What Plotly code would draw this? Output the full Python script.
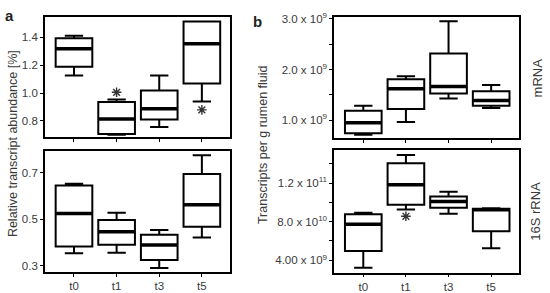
import plotly.graph_objects as go

W, H = 550, 293
cats = ["t0", "t1", "t3", "t5"]

# Panel a, top (relative transcript abundance, %)
a1_lo = [1.126, 0.700, 0.756, 0.939]
a1_q1 = [1.189, 0.706, 0.810, 1.069]
a1_med = [1.317, 0.814, 0.888, 1.353]
a1_q3 = [1.393, 0.935, 1.018, 1.513]
a1_hi = [1.411, 0.953, 1.126, 1.513]
a1_out_x = ["t1", "t5"]
a1_out_y = [1.005, 0.879]

# Panel a, bottom
a2_lo = [0.354, 0.356, 0.290, 0.422]
a2_q1 = [0.383, 0.390, 0.325, 0.468]
a2_med = [0.525, 0.446, 0.389, 0.562]
a2_q3 = [0.645, 0.497, 0.433, 0.695]
a2_hi = [0.653, 0.528, 0.454, 0.775]

# Panel b, top (mRNA, transcripts per g rumen fluid)
b1_lo = [0.714e9, 0.968e9, 1.430e9, 1.240e9]
b1_q1 = [0.745e9, 1.221e9, 1.526e9, 1.286e9]
b1_med = [0.949e9, 1.621e9, 1.667e9, 1.392e9]
b1_q3 = [1.190e9, 1.811e9, 2.314e9, 1.571e9]
b1_hi = [1.286e9, 1.869e9, 2.954e9, 1.697e9]

# Panel b, bottom (16S rRNA)
b2_lo = [3.23e10, 9.26e10, 8.83e10, 5.26e10]
b2_q1 = [4.96e10, 9.76e10, 9.43e10, 7.00e10]
b2_med = [7.73e10, 11.83e10, 10.10e10, 9.23e10]
b2_q3 = [8.76e10, 14.06e10, 10.60e10, 9.33e10]
b2_hi = [8.93e10, 14.90e10, 11.10e10, 9.40e10]
b2_out_x = ["t1"]
b2_out_y = [8.56e10]

a1_ticks = [0.8, 1.0, 1.2, 1.4]
a1_ticktext = ["0.8", "1.0", "1.2", "1.4"]
a2_ticks = [0.3, 0.5, 0.7]
a2_ticktext = ["0.3", "0.5", "0.7"]
b1_ticks = [1.0e9, 1.5e9, 2.0e9, 2.5e9, 3.0e9]
b1_ticktext = ["1.0 x 10<sup>9</sup>", "", "2.0 x 10<sup>9</sup>", "", "3.0 x 10<sup>9</sup>"]
b2_ticks = [4e10, 6e10, 8e10, 10e10, 12e10, 14e10]
b2_ticktext = ["4.00 x 10<sup>9</sup>", "", "8.0 x 10<sup>10</sup>", "", "1.2 x 10<sup>11</sup>", ""]

TXT = "#3a3a3a"
FONT = "Liberation Sans, Arial, sans-serif"

fig = go.Figure()

def add_panel(n, lo, q1, med, q3, hi, out_x=None, out_y=None):
    xa = "x" if n == 1 else f"x{n}"
    ya = "y" if n == 1 else f"y{n}"
    fig.add_trace(go.Box(
        x=cats, lowerfence=lo, q1=q1, median=med, q3=q3, upperfence=hi,
        width=0.86, whiskerwidth=0.5, boxpoints=False,
        fillcolor="white", line=dict(color="black", width=2),
        xaxis=xa, yaxis=ya, showlegend=False, hoverinfo="skip"))
    fig.add_trace(go.Scatter(
        x=cats, y=med, mode="markers",
        marker=dict(symbol="line-ew", size=25.5, color="black",
                    line=dict(color="black", width=3.5)),
        xaxis=xa, yaxis=ya, showlegend=False, hoverinfo="skip"))
    if out_x:
        fig.add_trace(go.Scatter(
            x=out_x, y=out_y, mode="markers",
            marker=dict(symbol="asterisk-open", size=8, color="#333",
                        line=dict(color="#333", width=1.4)),
            xaxis=xa, yaxis=ya, showlegend=False, hoverinfo="skip"))

add_panel(1, a1_lo, a1_q1, a1_med, a1_q3, a1_hi, a1_out_x, a1_out_y)
add_panel(2, a2_lo, a2_q1, a2_med, a2_q3, a2_hi)
add_panel(3, b1_lo, b1_q1, b1_med, b1_q3, b1_hi)
add_panel(4, b2_lo, b2_q1, b2_med, b2_q3, b2_hi, b2_out_x, b2_out_y)

def xd(l, r):
    return [l / W, r / W]

def yd(t, b):
    return [1 - b / H, 1 - t / H]

common_axis = dict(showline=True, mirror=True, linecolor="black", linewidth=1.8,
                   ticks="outside", ticklen=3, tickwidth=1.2, tickcolor="black",
                   showgrid=False, zeroline=False,
                   tickfont=dict(family=FONT, size=11.5, color=TXT))

xr = [-0.68, 3.66]
layout = dict(
    width=W, height=H, margin=dict(l=0, r=0, t=0, b=0),
    paper_bgcolor="white", plot_bgcolor="white",
    font=dict(family=FONT, color=TXT),
    xaxis=dict(domain=xd(45, 230), anchor="y", range=xr, showticklabels=False,
               type="category", **common_axis),
    yaxis=dict(domain=yd(11, 136), anchor="x", range=[0.682, 1.548],
               tickvals=a1_ticks, ticktext=a1_ticktext, **common_axis),
    xaxis2=dict(domain=xd(45, 230), anchor="y2", range=xr, type="category",
                **common_axis),
    yaxis2=dict(domain=yd(150, 275), anchor="x2", range=[0.275, 0.794],
                tickvals=a2_ticks, ticktext=a2_ticktext, **common_axis),
    xaxis3=dict(domain=xd(334.3, 519.3), anchor="y3", range=xr, showticklabels=False,
                type="category", **common_axis),
    yaxis3=dict(domain=yd(11.7, 136.7), anchor="x3", range=[0.65e9, 3.03e9],
                tickvals=b1_ticks, ticktext=b1_ticktext, **common_axis),
    xaxis4=dict(domain=xd(334.3, 519.3), anchor="y4", range=xr, type="category",
                **common_axis),
    yaxis4=dict(domain=yd(149.3, 276), anchor="x4", range=[2.73e10, 15.4e10],
                tickvals=b2_ticks, ticktext=b2_ticktext, **common_axis),
)
fig.update_layout(**layout)

def ann(text, x, y, size, angle=0, bold=False, color=TXT):
    fig.add_annotation(text=f"<b>{text}</b>" if bold else text,
                       x=x / W, y=1 - y / H, xref="paper", yref="paper",
                       showarrow=False, textangle=angle, xanchor="center", yanchor="middle",
                       font=dict(family=FONT, size=size, color=color))

ann("a", 9, 10, 15, bold=True, color="#222")
ann("b", 257, 16, 15, bold=True, color="#222")
ann("Relative transcript abundance [%]", 13, 143, 12.5, angle=-90)
ann("Transcripts per g rumen fluid", 263, 144, 12.5, angle=-90)
ann("mRNA", 537, 75, 13, angle=-90)
ann("16S rRNA", 536, 213, 13, angle=-90)

fig.write_html("out.html")
